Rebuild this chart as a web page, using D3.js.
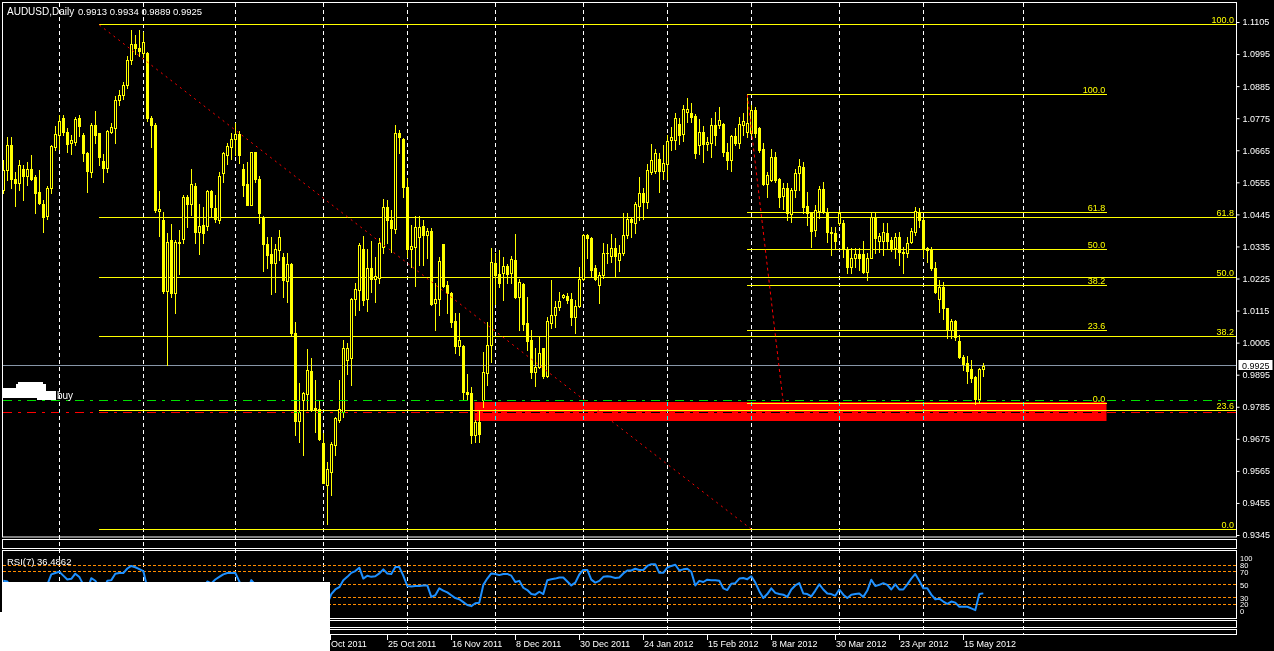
<!DOCTYPE html>
<html><head><meta charset="utf-8">
<script src="https://cdn.jsdelivr.net/npm/d3@7"></script>
<style>
html,body{margin:0;padding:0;background:#000;overflow:hidden}
svg{display:block}
text{font-family:"Liberation Sans",Arial,sans-serif}
</style></head>
<body>
<svg id="c" width="1274" height="651"></svg>
<script>
// ---------- DATA (AUDUSD daily, bar index 0..245) ----------
const opens = [
1.0528,1.0597,1.0683,1.0568,1.0551,1.0599,1.0576,1.0602,1.0574,1.0521,
1.0480,1.0441,1.0537,1.0675,1.0719,1.0774,1.0728,1.0691,1.0694,1.0774,
1.0717,1.0656,1.0591,1.0753,1.0723,1.0628,1.0603,1.0728,1.0743,1.0837,
1.0855,1.0890,1.0975,1.1030,1.1015,1.1000,1.1000,1.0775,1.0752,1.0458,
1.0426,1.0183,1.0357,1.0176,1.0350,1.0359,1.0506,1.0480,1.0542,1.0385,
1.0408,1.0405,1.0526,1.0466,1.0426,1.0586,1.0649,1.0677,1.0702,1.0720,
1.0602,1.0549,1.0477,1.0660,1.0568,1.0431,1.0345,1.0309,1.0277,1.0322,
1.0300,1.0217,1.0274,1.0038,0.9737,0.9808,0.9828,0.9907,0.9779,0.9776,
0.9661,0.9516,0.9562,0.9653,0.9739,0.9768,0.9947,0.9951,1.0153,1.0185,
1.0325,1.0153,1.0260,1.0222,1.0226,1.0332,1.0469,1.0426,1.0394,1.0725,
1.0702,1.0540,1.0325,1.0334,1.0368,1.0405,1.0374,1.0389,1.0140,1.0153,
1.0343,1.0203,1.0176,1.0080,0.9993,0.9993,0.9836,0.9831,0.9688,0.9733,
0.9808,0.9902,0.9996,1.0279,1.0240,1.0245,1.0268,1.0243,1.0288,1.0163,
1.0206,1.0071,1.0014,0.9905,0.9920,0.9985,0.9890,1.0073,1.0100,1.0128,
1.0161,1.0165,1.0153,1.0092,1.0130,1.0222,1.0374,1.0363,1.0260,1.0203,
1.0237,1.0311,1.0302,1.0328,1.0288,1.0311,1.0374,1.0428,1.0414,1.0474,
1.0520,1.0489,1.0592,1.0595,1.0634,1.0595,1.0618,1.0700,1.0700,1.0755,
1.0721,1.0796,1.0794,1.0782,1.0683,1.0729,1.0686,1.0689,1.0752,1.0752,
1.0755,1.0660,1.0632,1.0714,1.0691,1.0752,1.0729,1.0725,1.0803,1.0740,
1.0668,1.0549,1.0563,1.0641,1.0565,1.0508,1.0534,1.0447,1.0529,1.0588,
1.0606,1.0474,1.0449,1.0391,1.0458,1.0531,1.0454,1.0386,1.0382,1.0417,
1.0417,1.0325,1.0263,1.0297,1.0309,1.0309,1.0248,1.0297,1.0435,1.0352,
1.0355,1.0382,1.0357,1.0328,1.0369,1.0317,1.0311,1.0351,1.0386,1.0454,
1.0426,1.0328,1.0323,1.0260,1.0153,1.0197,1.0123,1.0048,1.0080,1.0011,
0.9954,0.9936,0.9913,0.9888,0.9810,0.9913];
const highs = [
1.0631,1.0711,1.0711,1.0591,1.0631,1.0614,1.0625,1.0648,1.0580,1.0597,
1.0494,1.0542,1.0683,1.0748,1.0786,1.0786,1.0743,1.0717,1.0780,1.0786,
1.0725,1.0660,1.0757,1.0799,1.0725,1.0652,1.0736,1.0757,1.0850,1.0870,
1.0900,1.0990,1.1078,1.1060,1.1078,1.1071,1.1003,1.0783,1.0757,1.0526,
1.0454,1.0380,1.0412,1.0357,1.0391,1.0511,1.0511,1.0599,1.0551,1.0480,
1.0471,1.0530,1.0530,1.0511,1.0591,1.0660,1.0689,1.0725,1.0760,1.0732,
1.0617,1.0625,1.0660,1.0660,1.0577,1.0439,1.0368,1.0368,1.0343,1.0393,
1.0311,1.0311,1.0277,1.0077,0.9865,0.9836,0.9982,0.9951,0.9876,0.9808,
0.9696,0.9596,0.9665,0.9751,0.9876,1.0014,1.0002,1.0157,1.0208,1.0346,
1.0371,1.0325,1.0353,1.0300,1.0363,1.0497,1.0494,1.0460,1.0752,1.0734,
1.0706,1.0569,1.0408,1.0439,1.0439,1.0425,1.0397,1.0397,1.0208,1.0300,
1.0343,1.0217,1.0180,1.0108,1.0108,0.9996,0.9897,0.9854,0.9739,0.9774,
0.9974,1.0077,1.0328,1.0311,1.0323,1.0300,1.0275,1.0302,1.0377,1.0222,
1.0211,1.0163,1.0048,0.9985,1.0027,0.9988,1.0094,1.0220,1.0149,1.0180,
1.0172,1.0174,1.0174,1.0151,1.0263,1.0377,1.0377,1.0368,1.0271,1.0249,
1.0348,1.0345,1.0377,1.0363,1.0340,1.0449,1.0449,1.0437,1.0489,1.0572,
1.0535,1.0618,1.0686,1.0668,1.0654,1.0683,1.0717,1.0744,1.0792,1.0775,
1.0820,1.0843,1.0826,1.0789,1.0771,1.0748,1.0712,1.0775,1.0797,1.0815,
1.0757,1.0689,1.0717,1.0740,1.0780,1.0792,1.0855,1.0820,1.0815,1.0746,
1.0689,1.0592,1.0668,1.0660,1.0569,1.0554,1.0552,1.0534,1.0600,1.0634,
1.0626,1.0523,1.0454,1.0477,1.0543,1.0557,1.0466,1.0403,1.0403,1.0460,
1.0426,1.0334,1.0328,1.0331,1.0328,1.0352,1.0311,1.0451,1.0449,1.0380,
1.0414,1.0414,1.0369,1.0382,1.0386,1.0334,1.0366,1.0397,1.0471,1.0466,
1.0431,1.0334,1.0334,1.0280,1.0220,1.0214,1.0123,1.0085,1.0083,1.0031,
0.9962,0.9959,0.9947,0.9890,0.9917,0.9934];
const lows = [
1.0517,1.0563,1.0534,1.0473,1.0528,1.0494,1.0545,1.0562,1.0450,1.0482,
1.0385,1.0429,1.0517,1.0665,1.0671,1.0717,1.0660,1.0652,1.0683,1.0713,
1.0629,1.0522,1.0572,1.0691,1.0614,1.0557,1.0591,1.0723,1.0691,1.0820,
1.0840,1.0880,1.0960,1.0995,1.0990,1.0985,1.0765,1.0675,1.0454,1.0370,
1.0176,0.9929,1.0162,1.0108,1.0242,1.0348,1.0403,1.0443,1.0348,1.0309,
1.0348,1.0391,1.0435,1.0420,1.0416,1.0557,1.0618,1.0634,1.0649,1.0622,
1.0508,1.0477,1.0477,1.0557,1.0416,1.0252,1.0260,1.0172,1.0180,1.0288,
1.0162,1.0145,1.0030,0.9688,0.9665,0.9619,0.9774,0.9770,0.9699,0.9670,
0.9522,0.9384,0.9482,0.9619,0.9733,0.9751,0.9899,0.9859,1.0100,1.0117,
1.0134,1.0114,1.0180,1.0145,1.0208,1.0311,1.0346,1.0317,1.0380,1.0655,
1.0503,1.0300,1.0265,1.0199,1.0271,1.0271,1.0294,1.0134,1.0048,1.0100,
1.0197,1.0108,1.0060,0.9970,0.9962,0.9808,0.9808,0.9659,0.9665,0.9665,
0.9785,0.9859,0.9939,1.0137,1.0197,1.0151,1.0208,1.0208,1.0157,1.0048,
1.0048,0.9979,0.9882,0.9856,0.9917,0.9882,0.9888,1.0054,1.0060,1.0117,
1.0157,1.0140,1.0065,1.0039,1.0128,1.0220,1.0294,1.0231,1.0220,1.0142,
1.0226,1.0277,1.0283,1.0229,1.0252,1.0306,1.0363,1.0366,1.0380,1.0426,
1.0428,1.0466,1.0583,1.0586,1.0523,1.0565,1.0565,1.0666,1.0668,1.0686,
1.0698,1.0763,1.0763,1.0637,1.0652,1.0626,1.0666,1.0641,1.0683,1.0740,
1.0645,1.0600,1.0595,1.0683,1.0672,1.0717,1.0712,1.0717,1.0712,1.0660,
1.0546,1.0503,1.0561,1.0557,1.0469,1.0462,1.0426,1.0420,1.0503,1.0529,
1.0451,1.0408,1.0334,1.0371,1.0431,1.0451,1.0351,1.0306,1.0328,1.0408,
1.0300,1.0243,1.0245,1.0266,1.0254,1.0245,1.0220,1.0294,1.0311,1.0317,
1.0306,1.0328,1.0320,1.0294,1.0271,1.0243,1.0300,1.0346,1.0374,1.0403,
1.0300,1.0280,1.0254,1.0174,1.0111,1.0085,1.0020,1.0020,1.0014,0.9951,
0.9911,0.9867,0.9871,0.9794,0.9802,0.9889];
const closes = [
1.0597,1.0683,1.0568,1.0553,1.0614,1.0576,1.0602,1.0568,1.0519,1.0485,
1.0437,1.0537,1.0679,1.0720,1.0765,1.0728,1.0688,1.0700,1.0771,1.0749,
1.0654,1.0594,1.0753,1.0719,1.0643,1.0603,1.0731,1.0745,1.0837,1.0855,
1.0890,1.0975,1.1030,1.1015,1.1005,1.1038,1.0774,1.0752,1.0460,1.0462,
1.0183,1.0351,1.0176,1.0350,1.0348,1.0506,1.0480,1.0549,1.0385,1.0405,
1.0380,1.0526,1.0469,1.0428,1.0577,1.0657,1.0680,1.0702,1.0720,1.0649,
1.0545,1.0477,1.0660,1.0568,1.0450,1.0343,1.0305,1.0277,1.0325,1.0366,
1.0220,1.0274,1.0038,0.9737,0.9768,0.9831,0.9911,0.9776,0.9774,0.9673,
0.9524,0.9570,0.9657,0.9745,0.9776,0.9985,0.9988,1.0153,1.0188,1.0340,
1.0151,1.0260,1.0222,1.0233,1.0346,1.0471,1.0426,1.0397,1.0725,1.0709,
1.0538,1.0325,1.0336,1.0403,1.0400,1.0374,1.0389,1.0137,1.0153,1.0286,
1.0199,1.0176,1.0077,0.9993,1.0014,0.9836,0.9830,0.9688,0.9733,0.9693,
0.9905,0.9996,1.0283,1.0237,1.0210,1.0268,1.0240,1.0291,1.0160,1.0214,
1.0069,1.0011,0.9905,0.9922,0.9968,0.9890,1.0080,1.0100,1.0126,1.0149,
1.0169,1.0151,1.0092,1.0130,1.0222,1.0374,1.0365,1.0254,1.0222,1.0237,
1.0311,1.0314,1.0328,1.0302,1.0311,1.0374,1.0428,1.0418,1.0481,1.0520,
1.0489,1.0597,1.0632,1.0654,1.0595,1.0620,1.0698,1.0709,1.0775,1.0717,
1.0805,1.0805,1.0780,1.0654,1.0729,1.0686,1.0694,1.0752,1.0717,1.0769,
1.0660,1.0632,1.0714,1.0691,1.0755,1.0767,1.0760,1.0803,1.0725,1.0666,
1.0549,1.0580,1.0641,1.0563,1.0506,1.0534,1.0449,1.0529,1.0586,1.0611,
1.0471,1.0449,1.0389,1.0460,1.0531,1.0454,1.0386,1.0382,1.0355,1.0451,
1.0328,1.0266,1.0297,1.0309,1.0294,1.0248,1.0297,1.0435,1.0363,1.0371,
1.0386,1.0355,1.0328,1.0366,1.0317,1.0314,1.0348,1.0389,1.0458,1.0426,
1.0328,1.0323,1.0260,1.0180,1.0197,1.0123,1.0050,1.0080,1.0025,0.9954,
0.9932,0.9909,0.9882,0.9810,0.9913,0.9925];
const rsi7 = [
56,55,45,44,52,48,51,45,35,30,
25,50,66,68,70,64,58,59,67,62,
50,42,60,56,46,42,56,57,67,68,
68,75,79,77,74,71,45,40,25,25,
18,28,22,35,35,48,46,52,42,43,
42,55,52,58,62,66,68,68,68,55,
45,40,57,50,40,32,30,28,34,38,
30,35,20,14,18,24,32,26,26,22,
15,20,35.4,42.5,46.1,56.8,62.1,68.3,71,76.3,
59.4,63.9,62.1,63,67.4,73.7,67.4,66.6,77.2,77.2,
63.9,47.9,47,47.9,47.9,48.8,48.8,31,33.6,44.3,
40.8,38.1,33.6,29.2,27.4,23,18.5,16.7,21.2,22.1,
49.6,59.4,67.4,66.6,64.8,66.6,66.6,63.9,54.1,55.9,
45.2,41.6,35.4,34.5,39,35.4,56.8,58.5,59.4,61.2,
61.2,55,48.8,53.2,65.7,72.8,72.8,57.7,53.2,55.9,
62.1,63,62.1,60.3,61.2,67.4,71.9,71.9,74.6,72.8,
72.8,79,81.7,81.7,68.3,68.3,76.3,79,80.8,71.9,
73.7,74.6,70.1,48.8,55.9,54.1,57.7,56.8,56.8,55.9,
44.3,41.6,51.4,52.3,59.4,60.3,58.5,63,53.2,39.9,
29.2,35.4,44.3,37.2,35.4,34.5,31,42.5,48.8,52.3,
36.3,35.4,31.8,40.8,50.5,42.5,36.3,35.4,32.7,42.5,
34.5,29.2,34.5,35.4,36.3,31,40.8,57.7,47.9,49.6,
52.3,49.6,42.5,50.5,42.5,42.5,50.5,59.4,66.6,55.9,
44.3,44.3,34.5,27.4,28.3,23.8,20.3,23.8,22.1,15.8,
15.8,15.8,13.2,10.5,35.4,36.49];

const priceTicks = [1.1105,1.0995,1.0885,1.0775,1.0665,1.0555,1.0445,1.0335,1.0225,1.0115,1.0005,0.9895,0.9785,0.9675,0.9565,0.9455,0.9345];
const dateLabels = ["Oct 2011","25 Oct 2011","16 Nov 2011","8 Dec 2011","30 Dec 2011","24 Jan 2012","15 Feb 2012","8 Mar 2012","30 Mar 2012","23 Apr 2012","15 May 2012"];
const dateBars   = [81.7,96,112,128,144,160,176,192,208,224,240];
const monthBars  = [14,35,58,80,101,123,145,166,187,209,230,255];
const rsiLevels  = [80,70,50,30,20];
const rsiLabels  = [100,80,70,50,30,20,0];
const fibLevels  = [0,23.6,38.2,50,61.8,100];
const fib1 = {bar0:24, bar1:187, hi:1.1095, lo:0.9365};
const fib2 = {bar0:186, bar1:195, end:276, hi:1.0855, lo:0.9797};
const zone = {bar0:118, bar1:276, top:0.9801, bottom:0.9737};
const greenLevel = 0.9805, redLevel = 0.9766;
const bid = 0.9925, rsiNow = 36.4862;

// ---------- SCALES ----------
const svg = d3.select("#c");
const x = d3.scaleLinear().domain([0,245]).range([3.3,983.3]);
const y = d3.scaleLinear().domain([0.9345,1.1105]).range([535,22]);
const r = d3.scaleLinear().domain([0,100]).range([616.9,552.4]);
const cx = i => Math.floor(x(i)) + 0.5;
const cy = v => Math.floor(y(v)) + 0.5;
const RIGHT = 1236.5;
const WHITE = "#fff", YEL = "#ffff00";

svg.append("rect").attr("width",1274).attr("height",651).attr("fill","#000");

// red zone
svg.append("rect")
  .attr("x", Math.floor(x(zone.bar0)) - 0.5).attr("y", Math.round(y(zone.top)))
  .attr("width", x(zone.bar1) - x(zone.bar0)).attr("height", Math.round(y(zone.bottom)) - Math.round(y(zone.top)))
  .attr("fill","#ff0000");

// month separators (dashed)
svg.append("g").selectAll("line").data(monthBars).join("line")
  .attr("x1", d=>cx(d)).attr("x2", d=>cx(d)).attr("y1",3).attr("y2",634)
  .attr("stroke",WHITE).attr("stroke-dasharray","4,3")
  .style("mix-blend-mode","difference");

// fib 1 levels
const gF = svg.append("g");
fibLevels.forEach(l => {
  const p = fib1.lo + l/100*(fib1.hi - fib1.lo);
  gF.append("line").attr("x1", Math.floor(x(fib1.bar0))).attr("x2", RIGHT).attr("y1", cy(p)).attr("y2", cy(p))
    .attr("stroke", YEL);
  gF.append("text").attr("x", 1234).attr("y", cy(p) - 2).attr("text-anchor","end")
    .attr("fill", YEL).attr("font-size", 9).text(l.toFixed(1));
});
// fib 2 levels
fibLevels.forEach(l => {
  const p = fib2.lo + l/100*(fib2.hi - fib2.lo);
  gF.append("line").attr("x1", Math.floor(x(fib2.bar0))).attr("x2", Math.floor(x(fib2.end))).attr("y1", cy(p)).attr("y2", cy(p))
    .attr("stroke", YEL);
  gF.append("text").attr("x", x(fib2.end) - 2).attr("y", cy(p) - 2).attr("text-anchor","end")
    .attr("fill", YEL).attr("font-size", 9).text(l.toFixed(1));
});

// grey bid line
svg.append("line").attr("x1",3).attr("x2",RIGHT).attr("y1",cy(bid)).attr("y2",cy(bid))
  .attr("stroke","#8796a8");

// ---------- CANDLES ----------
const bars = d3.range(opens.length).map(i => ({i, o:opens[i], h:highs[i], l:lows[i], c:closes[i]}));
const gC = svg.append("g");
gC.selectAll("line.w").data(bars).join("line").attr("class","w")
  .attr("x1", d=>cx(d.i)).attr("x2", d=>cx(d.i))
  .attr("y1", d=>Math.round(y(d.h))).attr("y2", d=>Math.round(y(d.l))+1)
  .attr("stroke", YEL);
gC.selectAll("rect.b").data(bars).join("rect").attr("class","b")
  .each(function(d){
    const t = Math.round(y(Math.max(d.o,d.c))), b = Math.round(y(Math.min(d.o,d.c)));
    const s = d3.select(this);
    if (d.c > d.o && b - t >= 2) {
      s.attr("x", cx(d.i)-1).attr("y", t+0.5).attr("width",2).attr("height", b-t)
       .attr("fill","#000").attr("stroke",YEL).attr("stroke-width",1);
    } else {
      s.attr("x", cx(d.i)-1.5).attr("y", t).attr("width",3).attr("height", Math.max(1,b-t+1))
       .attr("fill",YEL);
    }
  });

// horizontal dash-dot lines
svg.append("line").attr("x1",3).attr("x2",RIGHT).attr("y1",cy(greenLevel)).attr("y2",cy(greenLevel))
  .attr("stroke","#00e000").attr("stroke-dasharray","9,6,3,6");
svg.append("line").attr("x1",3).attr("x2",RIGHT).attr("y1",cy(redLevel)).attr("y2",cy(redLevel))
  .attr("stroke","#ff0000").attr("stroke-dasharray","9,6,3,6")
  .style("mix-blend-mode","difference");

// fib trend lines (dotted red)
svg.append("line").attr("x1",x(fib1.bar0)).attr("y1",y(fib1.hi)).attr("x2",x(fib1.bar1)).attr("y2",y(fib1.lo))
  .attr("stroke","#ff0000").attr("stroke-dasharray","2,4");
svg.append("line").attr("x1",x(fib2.bar0)).attr("y1",y(fib2.hi)).attr("x2",x(fib2.bar1)).attr("y2",y(fib2.lo))
  .attr("stroke","#ff0000").attr("stroke-dasharray","3,3");

// ---------- PANELS ----------
const panels = [[2.5,537],[539.5,548.5],[550.5,618.5],[620.5,627.5],[629.5,634.5]];
svg.append("g").selectAll("rect").data(panels).join("rect")
  .attr("x",2.5).attr("y",d=>d[0]).attr("width",RIGHT-2.5).attr("height",d=>d[1]-d[0])
  .attr("fill","none").attr("stroke",WHITE);

// price axis
const ax = svg.append("g").attr("transform",`translate(${RIGHT},0)`)
  .call(d3.axisRight(y).tickValues(priceTicks).tickFormat(d3.format(".4f")).tickSize(3).tickPadding(3));
ax.select(".domain").remove();
ax.selectAll("line").attr("stroke",WHITE);
ax.selectAll("text").attr("fill",WHITE).attr("font-size",9).attr("font-family","Liberation Sans, Arial, sans-serif");

// bid label
svg.append("rect").attr("x",1238.5).attr("y",cy(bid)-5.5).attr("width",34).attr("height",10).attr("fill",WHITE);
svg.append("text").attr("x",1242).attr("y",cy(bid)+3.5).attr("fill","#000").attr("font-size",9).text(bid.toFixed(4));

// ---------- RSI ----------
svg.append("g").selectAll("line").data(rsiLevels).join("line")
  .attr("x1",3).attr("x2",RIGHT).attr("y1",d=>Math.floor(r(d))+0.5).attr("y2",d=>Math.floor(r(d))+0.5)
  .attr("stroke","#ff8c00").attr("stroke-dasharray","3,2");
svg.append("path").datum(rsi7)
  .attr("d", d3.line().x((d,i)=>x(i)).y(d=>r(d)))
  .attr("fill","none").attr("stroke","#1e90ff").attr("stroke-width",2).attr("stroke-linejoin","round");
svg.append("g").selectAll("text").data(rsiLabels).join("text")
  .attr("x",1240).attr("y",d=>Math.min(Math.max(r(d),558),611)+3)
  .attr("fill",WHITE).attr("font-size",7.5).text(d=>d);
svg.append("text").attr("x",7).attr("y",565).attr("fill",WHITE).attr("font-size",9.5)
  .text("RSI(7) " + rsiNow.toFixed(4));

// ---------- TIME AXIS ----------
const gT = svg.append("g");
gT.selectAll("line").data(dateBars).join("line")
  .attr("x1",d=>cx(d)).attr("x2",d=>cx(d)).attr("y1",634).attr("y2",640).attr("stroke",WHITE);
gT.selectAll("text").data(dateLabels).join("text")
  .attr("x",(d,i)=>cx(dateBars[i])+0.5).attr("y",646.5).attr("fill",WHITE).attr("font-size",9).text(d=>d);

// ---------- HEADER & ANNOTATIONS ----------
const last = opens.length - 1;
svg.append("text").attr("x",7).attr("y",15).attr("fill",WHITE).attr("font-size",10).text("AUDUSD,Daily");
svg.append("text").attr("x",78).attr("y",15).attr("fill",WHITE).attr("font-size",9.5)
  .text([opens[last],highs[last],lows[last],closes[last]].map(v=>v.toFixed(4)).join(" "));
svg.append("text").attr("x",57).attr("y",399).attr("fill",WHITE).attr("font-size",10).text("buy");
svg.append("path").attr("fill",WHITE)
  .attr("d","M18,382H43V384H46V391H56V400H37V398H3V388H16V384H18Z");
// masking boxes
svg.append("rect").attr("x",3).attr("y",582).attr("width",327).attr("height",69).attr("fill",WHITE);
svg.append("rect").attr("x",0).attr("y",612).attr("width",3).attr("height",39).attr("fill",WHITE);
</script>
</body></html>
